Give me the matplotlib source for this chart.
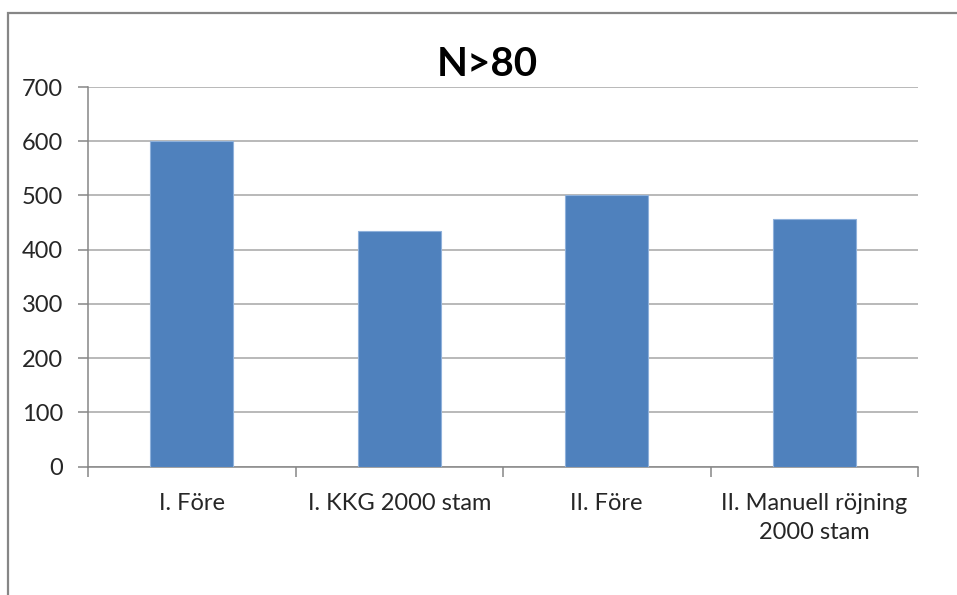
import matplotlib
matplotlib.use("Agg")
import matplotlib.pyplot as plt
from matplotlib.patches import Rectangle

# Data
categories = ["I. Före", "I. KKG 2000 stam", "II. Före", "II. Manuell röjning\n2000 stam"]
values = [600, 434, 500, 456]
yticks = [0, 100, 200, 300, 400, 500, 600, 700]
title = "N>80"

plt.rcParams["font.family"] = ["Lato", "DejaVu Sans"]

fig = plt.figure(figsize=(9.57, 5.95), dpi=100)
ax = fig.add_axes([88 / 957, 1 - 466.7 / 595, (918 - 88) / 957, (466.7 - 87) / 595])

# Outer chart frame
fig.patches.append(Rectangle((8 / 957, -0.05), 1.2, 1 - 13 / 595 + 0.05,
                             transform=fig.transFigure, fill=False,
                             edgecolor="#868686", linewidth=1.6, zorder=0))

x = list(range(len(categories)))
ax.bar(x, values, width=0.4, color="#4f81bd", edgecolor="#8fb1db", linewidth=0.8, zorder=3)

ax.set_xlim(-0.5, len(categories) - 0.5)
ax.set_ylim(0, 700)
ax.set_yticks(yticks)
ax.set_yticklabels([str(v) for v in yticks], fontsize=17, color="#262626")
ax.yaxis.grid(True, color="#a6a6a6", linewidth=1.1, zorder=0)
ax.set_axisbelow(True)

# Category labels centred between tick marks that sit on category boundaries
ax.set_xticks([i - 0.5 for i in range(len(categories) + 1)])
ax.set_xticklabels([""] * (len(categories) + 1))
ax.set_xticks(x, minor=True)
ax.set_xticklabels(categories, minor=True, fontsize=17, color="#262626", linespacing=1.45)
ax.tick_params(axis="x", which="minor", length=0, pad=19)
ax.tick_params(axis="x", which="major", length=7, width=1.1, color="#868686")
ax.tick_params(axis="y", length=7, width=1.1, color="#868686", pad=11)

for s in ["top", "right"]:
    ax.spines[s].set_visible(False)
for s in ["left", "bottom"]:
    ax.spines[s].set_color("#868686")
    ax.spines[s].set_linewidth(1.1)

fig.text(487 / 957, 1 - 64 / 595, title, ha="center", va="center",
         fontsize=29, fontweight="bold", color="black")

fig.savefig("out.png", dpi=100)
